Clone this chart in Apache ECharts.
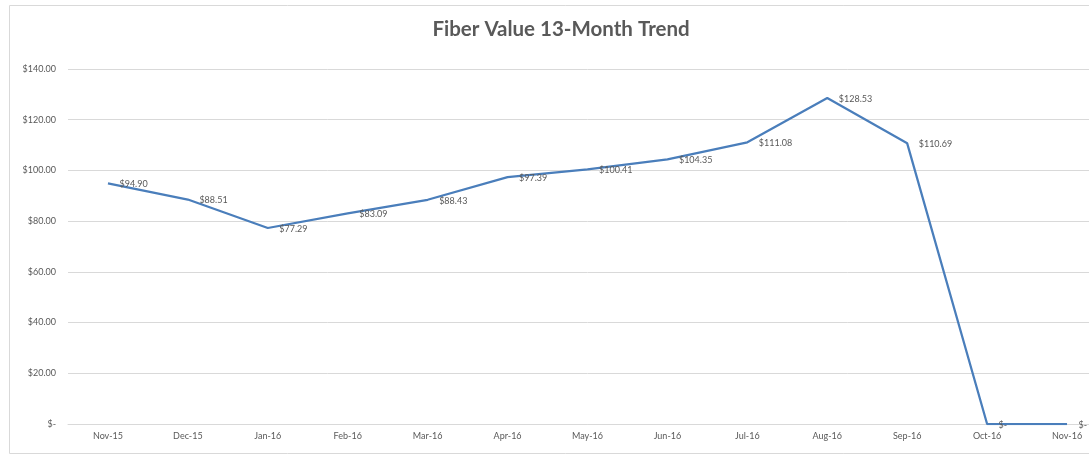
<!DOCTYPE html>
<html><head><meta charset="utf-8">
<script src="https://cdn.jsdelivr.net/npm/echarts@6/dist/echarts.min.js"></script>
<style>html,body{margin:0;padding:0;background:#fff;width:1089px;height:456px;overflow:hidden}#c{width:1120px;height:456px}</style>
</head><body><div id="c"></div>
<script>
var categories = ['Nov-15','Dec-15','Jan-16','Feb-16','Mar-16','Apr-16','May-16','Jun-16','Jul-16','Aug-16','Sep-16','Oct-16','Nov-16'];
var values = [94.90, 88.51, 77.29, 83.09, 88.43, 97.39, 100.41, 104.35, 111.08, 128.53, 110.69, 0, 0];
var yTicks = [0, 20, 40, 60, 80, 100, 120, 140];
var titleText = 'Fiber Value 13-Month Trend';

function money(v){ return v === 0 ? '$-' : '$' + v.toFixed(2); }

var chart = echarts.init(document.getElementById('c'));
chart.setOption({
  animation: false,
  textStyle: { fontFamily: 'Lato, "Open Sans", sans-serif' },
  graphic: [{ type: 'rect', shape: { x: 9.5, y: 5.5, width: 1200, height: 448 },
    style: { fill: 'none', stroke: '#d9d9d9', lineWidth: 1 }, silent: true }],
  title: { text: titleText, left: 556, textAlign: 'center', top: 14,
    textStyle: { fontFamily: 'Lato, "Open Sans", sans-serif', fontSize: 20.5, fontWeight: 'bold', color: '#595959' } },
  grid: { left: 68, width: 1039, top: 69, bottom: 32, containLabel: false, outerBoundsMode: 'none' },
  xAxis: { type: 'category', data: categories, boundaryGap: true,
    axisLine: { lineStyle: { color: '#d9d9d9' } }, axisTick: { show: false },
    axisLabel: { color: '#595959', fontSize: 9, margin: 8, interval: 0 } },
  yAxis: { type: 'value', min: 0, max: 140, interval: 20,
    axisLine: { show: false }, axisTick: { show: false },
    splitLine: { lineStyle: { color: '#d9d9d9' } },
    axisLabel: { color: '#595959', fontSize: 9, margin: 12,
      formatter: function(v){ return yTicks.indexOf(v) >= 0 ? money(v) : ''; } } },
  series: [{ type: 'line', data: values, symbol: 'circle', symbolSize: 1, showSymbol: true,
    lineStyle: { color: '#4a7ebb', width: 2.25 },
    itemStyle: { color: 'rgba(0,0,0,0)', borderWidth: 0 },
    label: { show: true, position: 'right', distance: 11, offset: [0, 1],
      color: '#595959', fontSize: 9,
      formatter: function(p){ return money(p.value); } } }]
});
</script></body></html>
